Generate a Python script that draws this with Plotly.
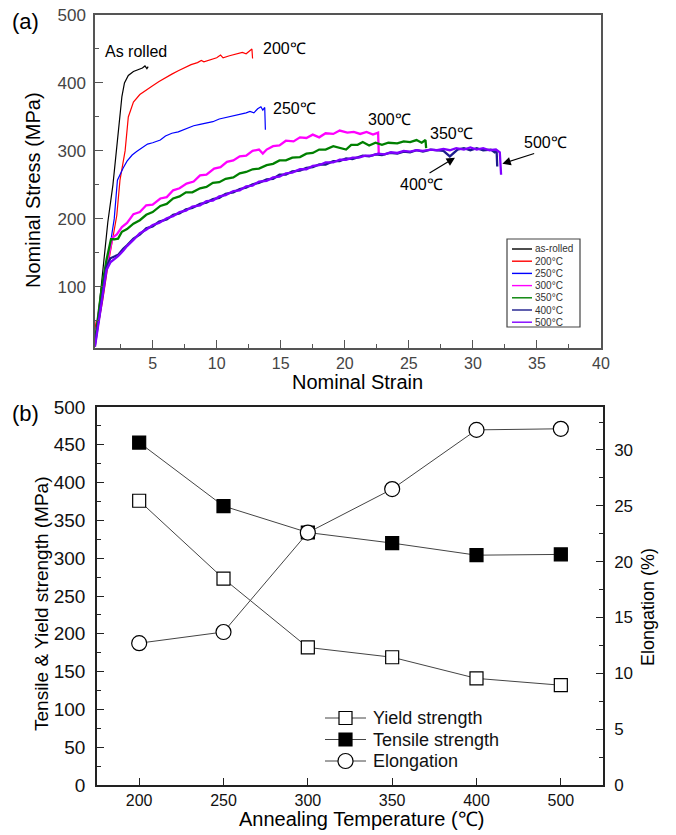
import plotly.graph_objects as go

FONT = "Arial, 'Liberation Sans', sans-serif"
W, H = 676, 835          # browser window
OFF = 8                  # default page margin around the figure
FW, FH = W - OFF, H - OFF  # figure size so that it fits the window

# ---------------- Panel (a): stress-strain curves ----------------
strain_asrolled = [0.5, 1.0, 1.5, 1.9, 2.2, 2.4, 2.6, 2.8, 3.1, 3.5, 3.9, 4.2, 4.4, 4.55, 4.65]
stress_asrolled = [12, 100, 195, 250, 310, 350, 380, 400, 411, 417, 420, 422, 425, 421, 424]

strain_200 = [0.5, 0.6, 0.8, 1.1, 1.5, 1.9, 2.2, 2.45, 2.85, 3.1, 3.5, 4.0, 4.5, 5.0, 5.5, 6.0,
              6.5, 7.0, 7.5, 8.0, 8.5, 8.8, 9.0, 9.5, 10.0, 10.3, 10.5, 11.0, 11.5, 12.0, 12.3,
              12.6, 12.75, 12.8]
stress_200 = [38, 50, 48, 80, 130, 170, 205, 257, 300, 350, 372, 383, 390, 396, 402, 408,
              413, 418, 423, 427, 430, 433, 431, 434, 437, 441, 437, 440, 443, 445, 443,
              447, 450, 436]

strain_250 = [0.5, 1.0, 1.5, 2.0, 2.25, 2.5, 2.7, 3.0, 3.4, 3.75, 4.2, 4.6, 5.0, 5.6, 6.0, 6.5,
              7.0, 7.65, 8.2, 8.7, 9.2, 9.7, 10.2, 10.7, 11.3, 11.8, 12.3, 12.6, 12.9, 13.2,
              13.45, 13.6, 13.75, 13.8]
stress_250 = [18, 80, 140, 200, 257, 268, 275, 285, 294, 299, 305, 310, 312, 316, 322, 326,
              328, 333, 337, 339, 341, 343, 347, 349, 351, 354, 356, 358, 356, 362,
              365, 360, 364, 331]

strain_300 = [0.5, 1.0, 1.4, 1.7, 1.85, 2.2, 2.6, 3.0, 3.5, 4.0, 4.5, 5.0, 5.6, 6.1, 6.6,
              7.1, 7.65, 8.2, 8.7, 9.2, 9.8, 10.3, 10.8, 11.3, 11.8, 12.3, 12.8, 13.3, 13.6,
              13.9, 14.4, 14.9, 15.4, 16.0, 16.5, 17.0, 17.5, 18.0, 18.5, 19.1, 19.6, 20.2,
              20.7, 21.2, 21.7, 22.2, 22.6, 22.65]
stress_300 = [20, 90, 130, 160, 172, 177, 188, 194, 207, 210, 220, 221, 230, 232, 242,
              245, 252, 255, 264, 265, 274, 276, 284, 286, 292, 293, 300, 302, 296,
              302, 307, 308, 315, 314, 320, 319, 324, 320, 326, 325, 330, 327,
              328, 325, 328, 324, 327, 297]

strain_350 = [0.5, 1.0, 1.4, 1.75, 2.0, 2.3, 2.6, 3.0, 3.5, 4.0, 4.5, 5.0, 5.6, 6.1, 6.6,
              7.1, 7.6, 8.1, 8.7, 9.2, 9.7, 10.2, 10.7, 11.3, 11.8, 12.3, 12.8, 13.3, 13.9,
              14.4, 14.9, 15.4, 15.9, 16.5, 17.0, 17.5, 18.0, 18.5, 19.1, 19.6, 20.1, 20.5,
              21.0, 21.4, 21.9, 22.4, 22.9, 23.4, 24.1, 24.6, 25.1, 25.6, 26.0, 26.3, 26.35]
stress_350 = [20, 95, 140, 170, 170, 171, 181, 185, 193, 198, 206, 210, 219, 222, 230,
              233, 239, 239, 245, 247, 253, 254, 259, 261, 267, 269, 273, 274, 279,
              281, 286, 286, 290, 291, 296, 297, 302, 302, 307, 304, 302, 309,
              309, 313, 308, 312, 309, 312, 311, 314, 313, 316, 312, 316, 304]

strain_400 = [0.5, 1.0, 1.4, 1.7, 2.0, 2.3, 2.7, 3.0, 3.5, 4.0, 4.5, 5.0, 5.5, 6.1, 6.6,
              7.1, 7.6, 8.1, 8.7, 9.2, 9.7, 10.2, 10.7, 11.3, 11.8, 12.3, 12.8, 13.3, 13.9,
              14.4, 14.9, 15.4, 15.9, 16.5, 17.0, 17.5, 18.0, 18.5, 19.1, 19.6, 20.1, 20.6,
              21.4, 21.9, 22.4, 22.9, 23.5, 24.1, 24.6, 25.1, 25.6, 26.1, 26.7, 27.2, 27.7,
              28.2, 28.5, 28.8, 29.3, 29.8, 30.3, 30.8, 31.4, 31.7, 31.85, 31.9]
stress_400 = [15, 80, 130, 142, 144, 147, 156, 161, 171, 177, 186, 189, 196, 199, 206,
              208, 214, 216, 222, 224, 229, 231, 237, 239, 244, 246, 251, 253, 258,
              259, 265, 265, 270, 271, 275, 276, 280, 280, 285, 285, 289, 288,
              293, 292, 295, 294, 297, 296, 299, 298, 301, 299, 302, 301, 300,
              292, 297, 302, 304, 301, 304, 301, 302, 298, 300, 277]

strain_500 = [0.5, 1.0, 1.4, 1.7, 2.0, 2.3, 2.7, 3.0, 3.5, 4.0, 4.5, 5.0, 5.5, 6.1, 6.6,
              7.1, 7.6, 8.1, 8.7, 9.2, 9.7, 10.2, 10.7, 11.3, 11.8, 12.3, 12.8, 13.3, 13.9,
              14.4, 14.9, 15.4, 15.9, 16.5, 17.0, 17.5, 18.0, 18.5, 19.1, 19.6, 20.1, 20.6,
              21.1, 21.6, 22.1, 22.6, 23.1, 23.6, 24.1, 24.6, 25.1, 25.6, 26.1, 26.7, 27.2,
              27.7, 28.2, 28.7, 29.3, 29.8, 30.3, 30.8, 31.3, 31.8, 32.1, 32.2]
stress_500 = [12, 72, 125, 136, 140, 145, 153, 160, 169, 179, 184, 191, 194, 201, 204,
              210, 212, 218, 220, 226, 227, 233, 235, 241, 242, 248, 249, 255, 256,
              261, 262, 267, 268, 273, 273, 278, 279, 283, 283, 287, 287, 290,
              290, 293, 293, 296, 295, 298, 297, 300, 299, 301, 300, 302, 301,
              303, 301, 304, 302, 305, 302, 304, 301, 302, 298, 265]

curve_names = ["as-rolled", "200°C", "250°C", "300°C", "350°C", "400°C", "500°C"]
curve_colors = ["#000000", "#ff0000", "#0000ff", "#ff00ff", "#008000", "#1c1c8c", "#8000ff"]
curve_widths = [1.2, 1.2, 1.2, 2.3, 2.3, 2.3, 2.3]
curve_strain = [strain_asrolled, strain_200, strain_250, strain_300, strain_350, strain_400, strain_500]
curve_stress = [stress_asrolled, stress_200, stress_250, stress_300, stress_350, stress_400, stress_500]

# curve labels (text, strain, stress)
label_texts = ["As rolled", "200℃", "250℃", "300℃", "350℃", "500℃", "400℃"]
label_x = [3.7, 15.3, 16.1, 23.5, 28.3, 35.7, 26.0]
label_y = [447, 450, 363, 346, 326, 312, 250]
# arrows: (tip strain, tip stress, tail strain, tail stress)
arrows = [(32.3, 281, 34.9, 297), (28.6, 290, 26.5, 266)]

# ---------------- Panel (b): properties vs annealing temperature ----------------
temps = ["200", "250", "300", "350", "400", "500"]
yield_strength = [376, 273, 182, 169, 141, 132]
tensile_strength = [453, 369, 334, 320, 304, 305]
elongation = [12.7, 13.7, 22.6, 26.5, 31.8, 31.9]

series_b_names = ["Yield strength", "Tensile strength", "Elongation"]
series_b_symbols = ["square", "square", "circle"]
series_b_fills = ["white", "black", "white"]
series_b_sizes = [13, 13, 15]

fig = go.Figure()

for nm, col, wd, sx, sy in zip(curve_names, curve_colors, curve_widths, curve_strain, curve_stress):
    fig.add_trace(go.Scatter(x=sx, y=sy, mode="lines", name=nm, showlegend=False,
                             line=dict(color=col, width=wd), xaxis="x", yaxis="y"))

series_b_values = [yield_strength, tensile_strength, elongation]
series_b_axes = ["y2", "y2", "y3"]
for nm, sym, fill, sz, vals, ax in zip(series_b_names, series_b_symbols, series_b_fills,
                                        series_b_sizes, series_b_values, series_b_axes):
    fig.add_trace(go.Scatter(x=temps, y=vals, mode="lines+markers", name=nm, showlegend=False,
                             line=dict(color="#444444", width=1),
                             marker=dict(symbol=sym, size=sz, color=fill,
                                         line=dict(color="black", width=1.2)),
                             xaxis="x2", yaxis=ax))


def px_x(p):
    return (p - OFF) / FW


def px_y(p):
    return 1 - (p - OFF) / FH


gray_a = "#555555"
tick_a = dict(ticks="inside", ticklen=8, tickwidth=1.2, tickcolor=gray_a)


def txt(x, y, text, size, angle=0, xanchor="center", color="black"):
    return dict(x=px_x(x), y=px_y(y), xref="paper", yref="paper", text=text, textangle=angle,
                xanchor=xanchor, yanchor="middle", showarrow=False,
                font=dict(family=FONT, size=size, color=color))


annotations = []
for t, x, y in zip(label_texts, label_x, label_y):
    annotations.append(dict(x=x, y=y, xref="x", yref="y", text=t, showarrow=False,
                            xanchor="center", yanchor="middle",
                            font=dict(family=FONT, size=16, color="black")))
for tx, ty, sx, sy in arrows:
    annotations.append(dict(x=tx, y=ty, ax=sx, ay=sy, xref="x", yref="y", axref="x", ayref="y",
                            text="", showarrow=True, arrowhead=2, arrowsize=1.4,
                            arrowwidth=1.2, arrowcolor="black"))

# axis titles & panel labels
annotations += [
    txt(33, 190, "Nominal Stress (MPa)", 20, -90),
    txt(357, 382, "Nominal Strain", 20),
    txt(41, 604, "Tensile & Yield strength (MPa)", 19, -90),
    txt(648, 607, "Elongation (%)", 18, -90),
    txt(361, 819, "Annealing Temperature (℃)", 20),
    txt(25, 22, "(a)", 22),
    txt(25, 413, "(b)", 22),
]

# manual legend for panel (a)
shapes = [dict(type="rect", xref="paper", yref="paper", x0=px_x(507), x1=px_x(580),
               y0=px_y(327), y1=px_y(239), line=dict(color="#444444", width=1.2),
               fillcolor="white", layer="above")]
for i, (nm, col) in enumerate(zip(curve_names, curve_colors)):
    yy = 249 + 12.2 * i
    shapes.append(dict(type="line", xref="paper", yref="paper", x0=px_x(512), x1=px_x(532),
                       y0=px_y(yy), y1=px_y(yy), line=dict(color=col, width=1.4), layer="above"))
    annotations.append(txt(533, yy, nm, 10, xanchor="left", color="#333333"))

# manual legend for panel (b)
for i, (nm, sym, fill, sz) in enumerate(zip(series_b_names, series_b_symbols,
                                            series_b_fills, series_b_sizes)):
    yy = 718 + 21.5 * i
    shapes.append(dict(type="line", xref="paper", yref="paper", x0=px_x(325), x1=px_x(366),
                       y0=px_y(yy), y1=px_y(yy), line=dict(color="#444444", width=1),
                       layer="above"))
    h = sz / 2
    shapes.append(dict(type="rect" if sym == "square" else "circle", xref="paper", yref="paper",
                       x0=px_x(345.5 - h), x1=px_x(345.5 + h), y0=px_y(yy + h), y1=px_y(yy - h),
                       line=dict(color="black", width=1.2), fillcolor=fill, layer="above"))
    annotations.append(txt(371, yy, nm, 18, xanchor="left", color="#111111"))

fig.update_layout(
    width=FW, height=FH,
    margin=dict(l=0, r=0, t=0, b=0, autoexpand=False),
    paper_bgcolor="white", plot_bgcolor="white",
    font=dict(family=FONT, color="black"),
    showlegend=False,
    xaxis=dict(domain=[px_x(95), px_x(601)], anchor="y", range=[0.5, 40],
               tick0=0, dtick=5, showline=True, linecolor=gray_a, linewidth=1.5, mirror=True,
               showgrid=False, zeroline=False, **tick_a, ticklabeloverflow="allow",
               minor=dict(dtick=2.5, tick0=0, ticks="inside", ticklen=4, tickcolor=gray_a),
               tickfont=dict(family=FONT, size=16, color="#444444")),
    yaxis=dict(domain=[px_y(348), px_y(15)], anchor="x", range=[10, 500],
               tick0=0, dtick=100, showline=True, linecolor=gray_a, linewidth=1.5, mirror=True,
               showgrid=False, zeroline=False, **tick_a, ticklabelstandoff=4,
               ticklabeloverflow="allow",
               minor=dict(dtick=50, tick0=0, ticks="inside", ticklen=4, tickcolor=gray_a),
               tickfont=dict(family=FONT, size=17, color="#444444")),
    xaxis2=dict(domain=[px_x(97), px_x(603)], anchor="y2", type="category", range=[-0.5, 5.5],
                showline=True, linecolor="#222222", linewidth=1.5, mirror=True,
                showgrid=False, zeroline=False, ticks="inside", ticklen=7, tickcolor="#222222",
                tickfont=dict(family=FONT, size=16, color="#111111")),
    yaxis2=dict(domain=[px_y(785), px_y(407)], anchor="x2", range=[0, 500],
                tick0=0, dtick=50, showline=True, linecolor="#222222", linewidth=1.5,
                showgrid=False, zeroline=False, ticks="inside", ticklen=7, tickcolor="#222222",
                ticklabelstandoff=6, ticklabeloverflow="allow",
                minor=dict(dtick=25, tick0=0, ticks="inside", ticklen=4, tickcolor="#222222"),
                tickfont=dict(family=FONT, size=19, color="#111111")),
    yaxis3=dict(overlaying="y2", side="right", anchor="x2", range=[0, 33.85],
                tick0=0, dtick=5, showline=True, linecolor="#222222", linewidth=1.5,
                showgrid=False, zeroline=False, ticks="inside", ticklen=7, tickcolor="#222222",
                ticklabelstandoff=6, ticklabeloverflow="allow",
                minor=dict(dtick=2.5, tick0=0, ticks="inside", ticklen=4, tickcolor="#222222"),
                tickfont=dict(family=FONT, size=17, color="#111111")),
    annotations=annotations,
    shapes=shapes,
)

fig.write_html("out.html")
